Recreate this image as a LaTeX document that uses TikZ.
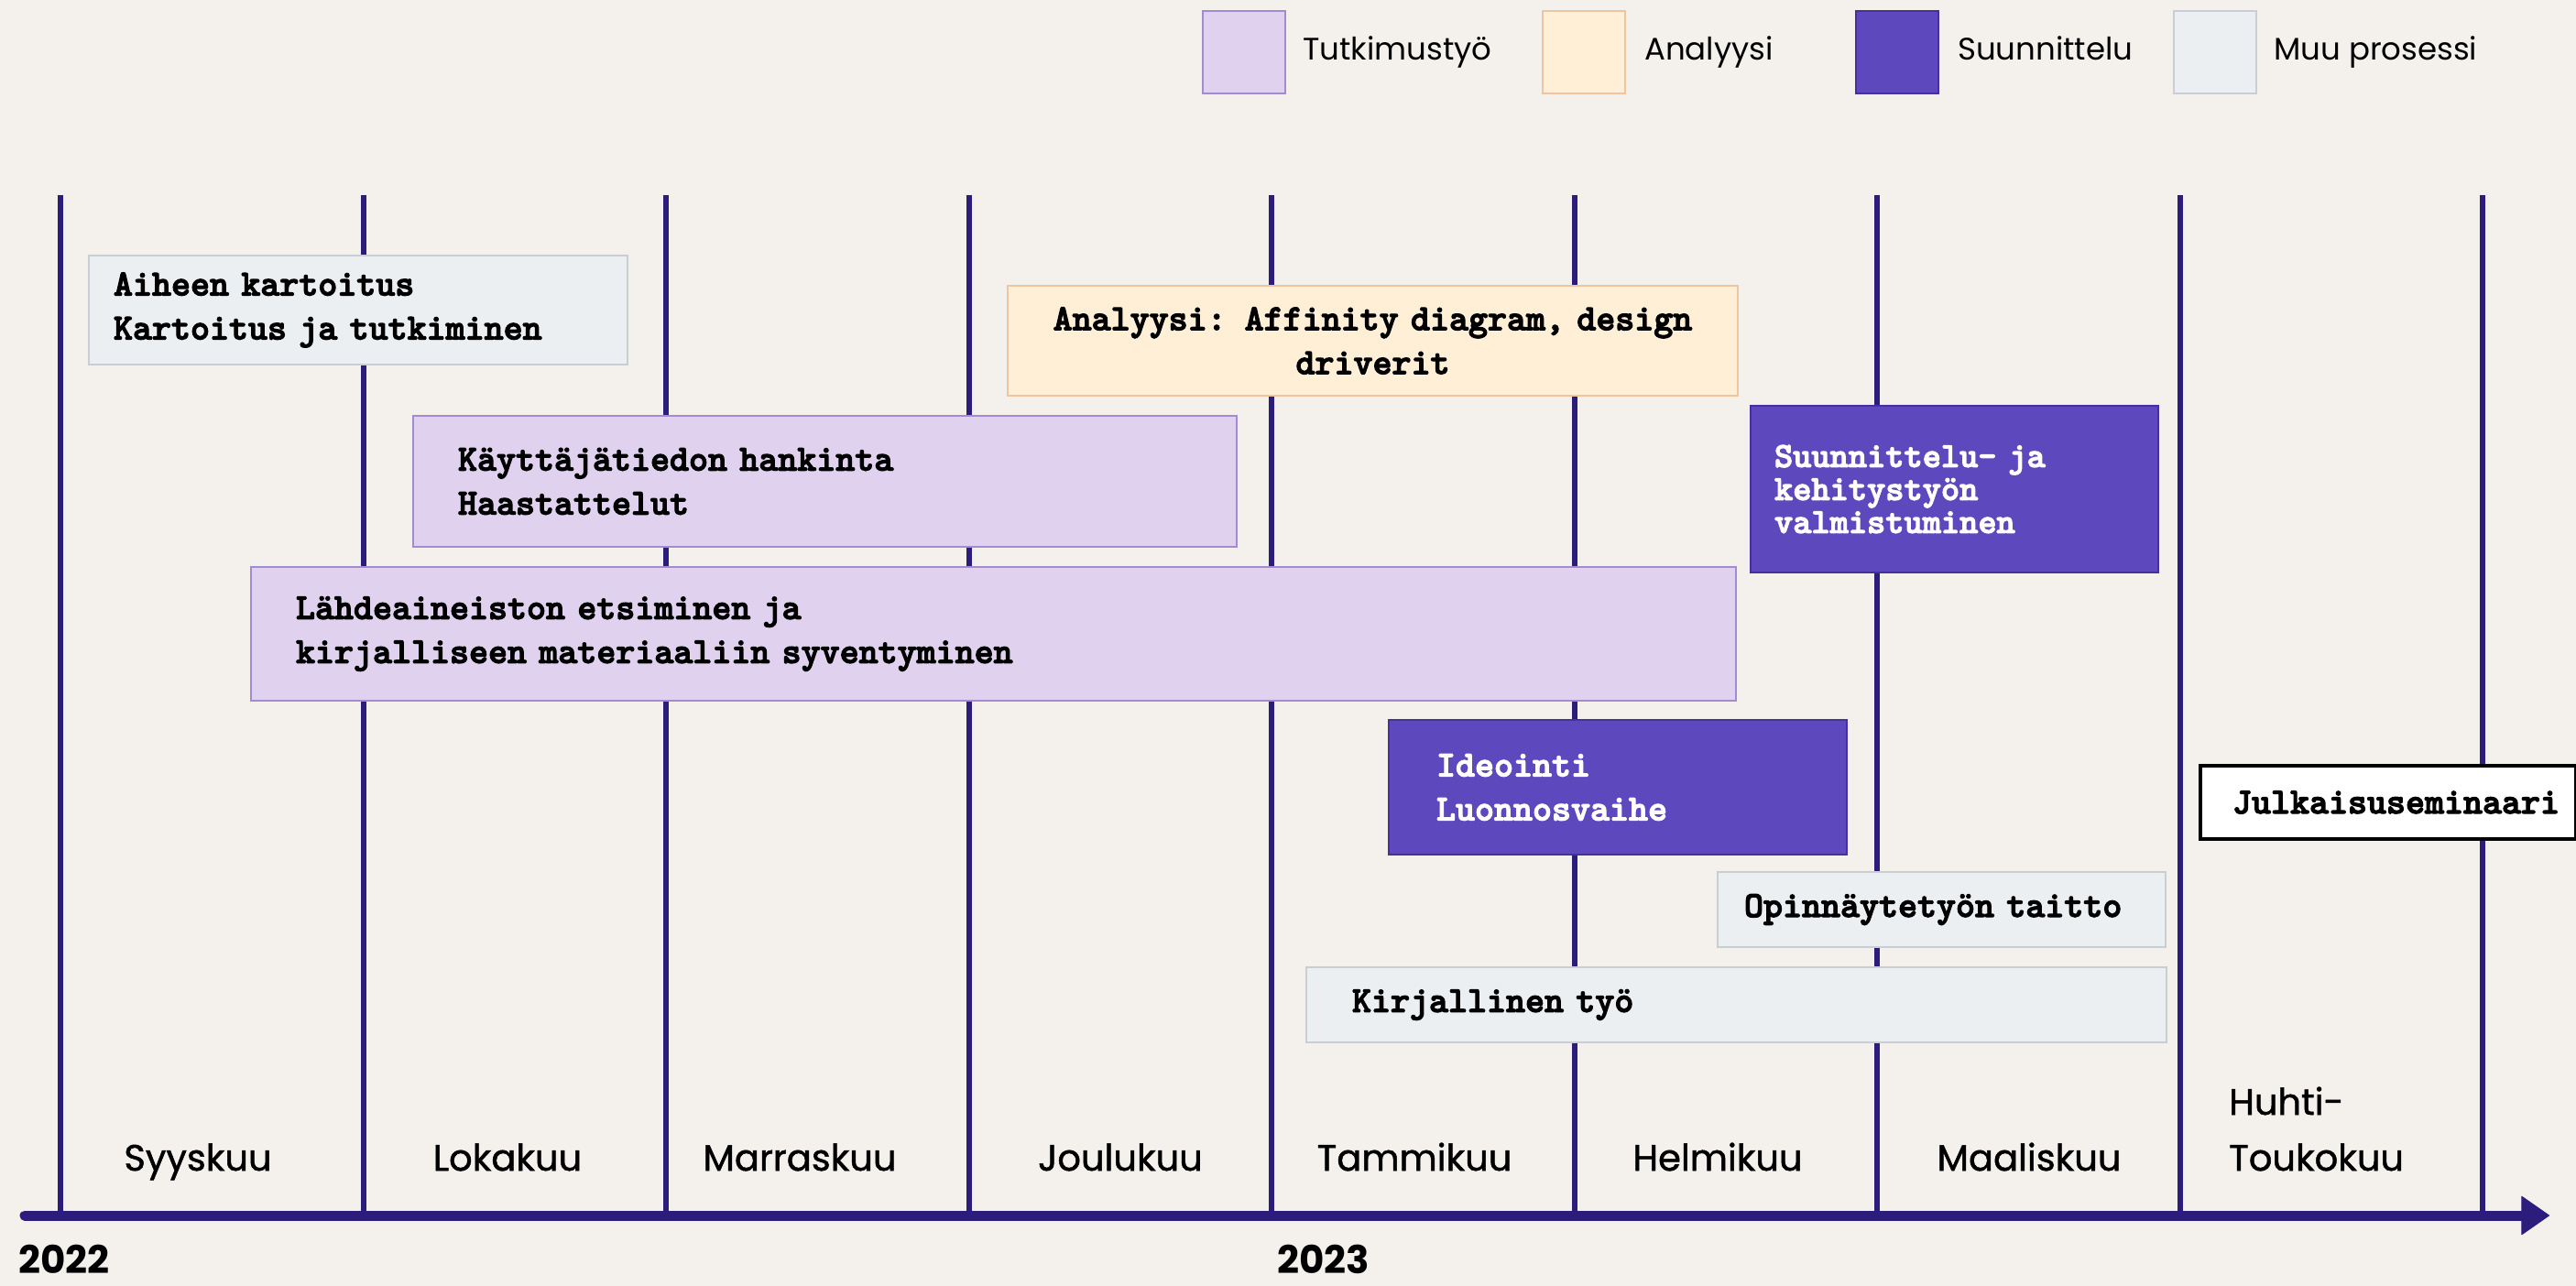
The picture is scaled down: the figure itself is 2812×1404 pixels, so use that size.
\documentclass[tikz,border=0pt]{standalone}
\usepackage{fontspec}
\usetikzlibrary{arrows.meta}

\newfontfamily\poppins{Poppins}
\newfontfamily\poppinsmed{Poppins}[FakeBold=1.2]
\newfontfamily\boxfamily{lmmonolt10-bold.otf}[FakeBold=3]
\newcommand\boxfont{\boxfamily\fontsize{40}{48}\selectfont}
\newcommand\tightboxfont{\boxfamily\fontsize{38.5}{36}\selectfont}
\newcommand\legendfont{\poppins\fontsize{34}{40}\selectfont}
\newcommand\monthfont{\poppinsmed\fontsize{40}{48}\selectfont}
\newcommand\yearfont{\poppins\bfseries\fontsize{42}{50}\selectfont}

\definecolor{paper}{HTML}{F4F1EC}
\definecolor{axiscol}{HTML}{2C1C7C}
\definecolor{tutkfill}{HTML}{E0D2EE}
\definecolor{tutkline}{HTML}{A38BD3}
\definecolor{anafill}{HTML}{FFEFD6}
\definecolor{analine}{HTML}{EFC59F}
\definecolor{suunfill}{HTML}{5E48BD}
\definecolor{suunline}{HTML}{45309F}
\definecolor{muufill}{HTML}{ECEFF1}
\definecolor{muuline}{HTML}{C9CED4}

\tikzset{
  phase/.style={anchor=north west, align=left, inner ysep=0pt, line width=2pt, font=\boxfont},
  tutk/.style={phase, fill=tutkfill, draw=tutkline},
  ana/.style={phase, fill=anafill, draw=analine},
  suun/.style={phase, fill=suunfill, draw=suunline, text=white},
  muu/.style={phase, fill=muufill, draw=muuline},
  swatch/.style={anchor=north west, minimum width=90pt, minimum height=90pt, inner sep=0pt, line width=2pt},
  legendtext/.style={anchor=base west, inner sep=0pt, font=\legendfont},
  month/.style={anchor=base, inner sep=0pt, font=\monthfont},
  year/.style={anchor=base west, inner sep=0pt, font=\yearfont},
  monthline/.style={draw=axiscol, line width=6pt},
  axisline/.style={draw=axiscol, line width=11pt, line cap=round,
    -{Triangle[length=31pt, width=43pt, line width=1pt, round]}}
}

\begin{document}
\begin{tikzpicture}[x=1pt, y=-1pt]
  %% Paper
  \fill[paper] (0,0) rectangle (2812,1404);
  \useasboundingbox (0,0) rectangle (2812,1404);

  %% Draw the month lines
  \foreach \i in {0,...,8}{
    \coordinate (top\i) at (66+330.5*\i,213);
    \coordinate (bot\i) at (66+330.5*\i,1327);
    \draw[monthline] (top\i) -- (bot\i);
  }

  %% Draw the time axis
  \coordinate (axisstart) at (27,1327);
  \coordinate (axisend) at (2783,1327);
  \draw[axisline] (axisstart) -- (axisend);

  %% Draw the legend
  \node[swatch, fill=tutkfill, draw=tutkline] (legtutk) at (1312,11) {};
  \node[legendtext] (legtutktext) at (1422,66) {Tutkimustyö};
  \node[swatch, fill=anafill, draw=analine] (legana) at (1683,11) {};
  \node[legendtext] (leganatext) at (1795,66) {Analyysi};
  \node[swatch, fill=suunfill, draw=suunline] (legsuun) at (2025,11) {};
  \node[legendtext] (legsuuntext) at (2137,66) {Suunnittelu};
  \node[swatch, fill=muufill, draw=muuline] (legmuu) at (2372,11) {};
  \node[legendtext] (legmuutext) at (2482,66) {Muu prosessi};

  %% Draw the phases
  \node[muu, text width=534pt, inner xsep=27pt, minimum height=119pt] (aiheen) at (96,278)
    {Aiheen kartoitus\\Kartoitus ja tutkiminen};
  \node[ana, align=center, text width=757pt, inner xsep=20pt, minimum height=120pt] (analyysi) at (1099,311)
    {Analyysi: Affinity diagram, design\\driverit};
  \node[tutk, text width=801pt, inner xsep=49pt, minimum height=143pt] (kayttaja) at (450,453)
    {Käyttäjätiedon hankinta\\Haastattelut};
  \node[suun, font=\tightboxfont, text width=393pt, inner xsep=26pt, minimum height=182pt] (valmistuminen) at (1910,442)
    {Suunnittelu- ja\\kehitystyön\\valmistuminen};
  \node[tutk, text width=1523pt, inner xsep=49pt, minimum height=146pt] (lahde) at (273,618)
    {Lähdeaineiston etsiminen ja\\kirjalliseen materiaaliin syventyminen};
  \node[suun, text width=396pt, inner xsep=52pt, minimum height=147pt] (ideointi) at (1515,785)
    {Ideointi\\Luonnosvaihe};
  \node[phase, fill=white, draw=black, line width=4pt, text width=340pt, inner xsep=35pt, minimum height=80pt] (julkaisu) at (2400,834)
    {Julkaisuseminaari};
  \node[muu, text width=431pt, inner xsep=29pt, minimum height=82pt] (taitto) at (1874,951)
    {Opinnäytetyön taitto};
  \node[muu, text width=839pt, inner xsep=50pt, minimum height=82pt] (kirjallinen) at (1425,1055)
    {Kirjallinen työ};

  %% Draw the months
  \foreach \name/\x in {Syyskuu/216, Lokakuu/554, Marraskuu/873, Joulukuu/1223,
      Tammikuu/1544, Helmikuu/1875, Maaliskuu/2215}
    \node[month] (\name) at (\x,1278) {\name};
  \node[month, anchor=base west] (huhti) at (2433,1217) {Huhti-};
  \node[month, anchor=base west] (touko) at (2433,1278) {Toukokuu};

  %% Draw the years
  \node[year] (y2022) at (20,1390) {2022};
  \node[year] (y2023) at (1394,1390) {2023};
\end{tikzpicture}
\end{document}
